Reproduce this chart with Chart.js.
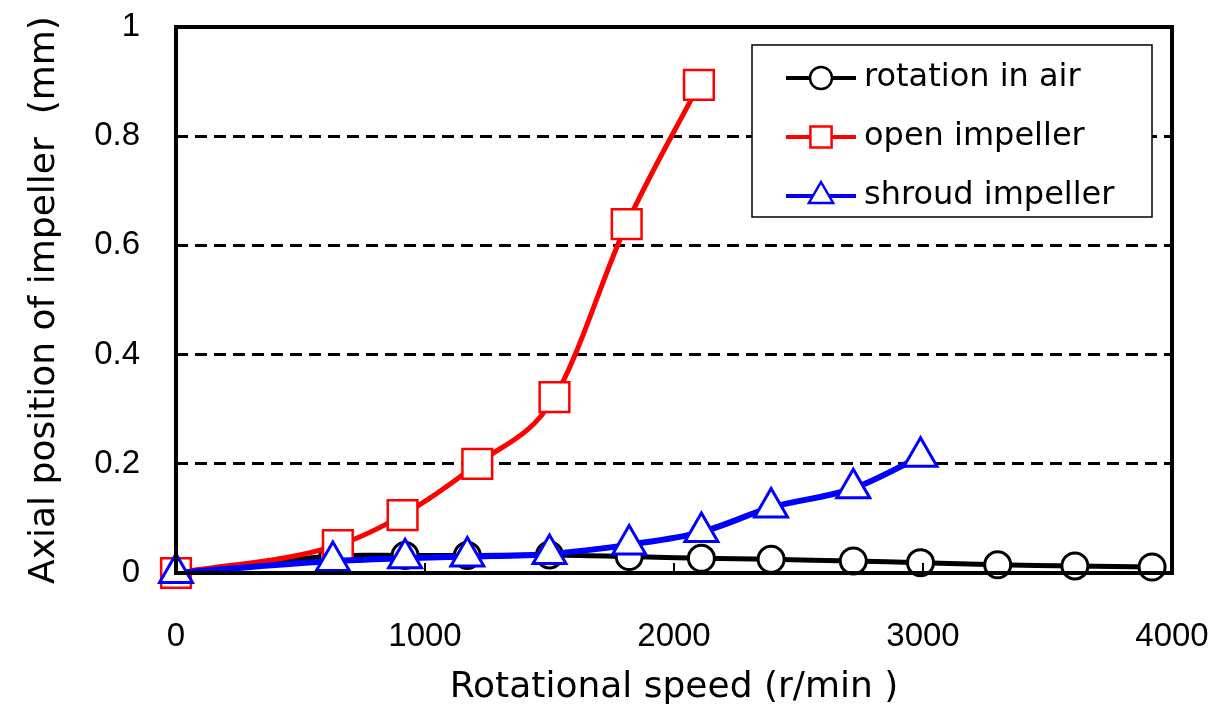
<!DOCTYPE html>
<html>
<head>
<meta charset="utf-8">
<script src="https://cdn.jsdelivr.net/npm/chart.js@4.4.0/dist/chart.umd.min.js"></script>
<style>
  html, body { margin: 0; padding: 0; background: #fff; }
  #wrap { width: 1225px; height: 709px; }
</style>
</head>
<body>
<div id="wrap"><canvas id="myChart" width="1225" height="709"></canvas></div>
<script>
// values
var airSpeed = [0, 630, 920, 1170, 1500, 1820, 2110, 2390, 2720, 2990, 3300, 3610, 3920];
var airPos = [0, 0.031, 0.032, 0.032, 0.033, 0.030, 0.027, 0.025, 0.022, 0.019, 0.015, 0.013, 0.011];

var openSpeed = [0, 650, 910, 1210, 1520, 1810, 2100];
var openPos = [0, 0.051, 0.106, 0.200, 0.322, 0.639, 0.894];

var shroudSpeed = [0, 630, 920, 1170, 1500, 1820, 2110, 2390, 2720, 2990];
var shroudPos = [0, 0.022, 0.027, 0.030, 0.035, 0.052, 0.075, 0.120, 0.155, 0.213];

var seriesNames = ['rotation in air', 'open impeller', 'shroud impeller'];

function pts(xs, ys) {
    return xs.map(function (x, i) { return { x: x, y: ys[i] }; });
}

var tickFont = { family: 'Liberation Sans', size: 33 };
var titleFont = { family: 'DejaVu Sans', size: 36 };

// box around the plot, inner ticks and the legend box
var frame = {
    id: 'frame',
    afterDatasetsDraw: function (chart) {
        var c = chart.ctx, a = chart.chartArea, xs = chart.scales.x;
        c.save();
        c.strokeStyle = '#000';
        c.lineWidth = 2;
        xs.ticks.forEach(function (t) {
            var px = xs.getPixelForValue(t.value);
            c.beginPath();
            c.moveTo(px, a.bottom);
            c.lineTo(px, a.bottom - 10);
            c.stroke();
        });
        c.lineWidth = 4;
        c.strokeRect(a.left, a.top, a.right - a.left, a.bottom - a.top);

        // legend
        var lx = 752, ly = 45, lw = 400, lh = 172;
        c.fillStyle = '#fff';
        c.fillRect(lx, ly, lw, lh);
        c.lineWidth = 1.5;
        c.strokeRect(lx, ly, lw, lh);
        [0, 1, 2].forEach(function (di, row) {
            var ds = chart.data.datasets[di];
            var y = 78 + row * 59;
            c.strokeStyle = ds.borderColor;
            c.lineWidth = 4;
            c.beginPath();
            c.moveTo(786, y);
            c.lineTo(856, y);
            c.stroke();
            var r = di === 0 ? 11 : (di === 1 ? 15 : 14);
            c.fillStyle = '#fff';
            c.strokeStyle = ds.pointBorderColor;
            c.lineWidth = 2.5;
            c.beginPath();
            if (ds.pointStyle === 'circle') {
                c.arc(821, y, r, 0, Math.PI * 2);
            } else if (ds.pointStyle === 'rect') {
                var s = r * Math.SQRT1_2;
                c.rect(821 - s, y - s, 2 * s, 2 * s);
            } else {
                c.moveTo(821, y - r);
                c.lineTo(821 + r * 0.866, y + r / 2);
                c.lineTo(821 - r * 0.866, y + r / 2);
                c.closePath();
            }
            c.fill();
            c.stroke();
            c.fillStyle = '#000';
            c.font = '32px "DejaVu Sans"';
            c.textBaseline = 'middle';
            c.textAlign = 'left';
            c.fillText(seriesNames[di], 864, y);
        });
        c.restore();
    }
};

var ctx = document.getElementById('myChart').getContext('2d');
var myChart = new Chart(ctx, {
    type: 'line',
    data: {
        datasets: [{
            label: seriesNames[0],
            data: pts(airSpeed, airPos),
            borderColor: '#000',
            borderWidth: 5,
            pointStyle: 'circle',
            pointRadius: 13,
            pointBorderWidth: 3,
            pointBorderColor: '#000',
            pointBackgroundColor: '#fff',
            tension: 0.3,
            order: 2
        }, {
            label: seriesNames[1],
            data: pts(openSpeed, openPos),
            borderColor: '#ff0000',
            borderWidth: 5,
            pointStyle: 'rect',
            pointRadius: 21,
            pointBorderWidth: 2.5,
            pointBorderColor: '#ff0000',
            pointBackgroundColor: '#fff',
            cubicInterpolationMode: 'monotone',
            order: 1
        }, {
            label: seriesNames[2],
            data: pts(shroudSpeed, shroudPos),
            borderColor: '#0000ff',
            borderWidth: 6,
            pointStyle: 'triangle',
            pointRadius: 19,
            pointBorderWidth: 3,
            pointBorderColor: '#0000ff',
            pointBackgroundColor: '#fff',
            cubicInterpolationMode: 'monotone',
            order: 0
        }]
    },
    options: {
        responsive: false,
        animation: false,
        clip: false,
        layout: {
            padding: { top: 27, right: 53, left: 0, bottom: 0 }
        },
        plugins: {
            legend: { display: false },
            tooltip: { enabled: false }
        },
        scales: {
            x: {
                type: 'linear',
                min: 0,
                max: 4000,
                border: { display: false },
                grid: { display: false },
                ticks: {
                    stepSize: 1000, font: tickFont, color: '#000', padding: 36,
                    callback: function (v) { return String(v); }
                },
                title: { display: true, text: 'Rotational speed (r/min )', font: titleFont, color: '#000', padding: { top: 0, bottom: 0 } },
                afterFit: function (s) {
                    s.height = 709 - 573;
                    s.paddingLeft = 0;
                    s.paddingRight = 0;
                }
            },
            y: {
                min: 0,
                max: 1,
                border: { display: false, dash: [12, 7] },
                grid: {
                    color: function (c) { return (c.tick.value > 0 && c.tick.value < 1) ? '#000' : 'rgba(0,0,0,0)'; },
                    lineWidth: 3,
                    drawTicks: false
                },
                ticks: {
                    stepSize: 0.2,
                    font: tickFont,
                    color: '#000',
                    padding: 36,
                    callback: function (v) { return String(Math.round(v * 10) / 10); }
                },
                title: { display: true, text: 'Axial position of impeller  (mm)', font: titleFont, color: '#000', padding: { top: 23, bottom: 0 } },
                afterFit: function (s) {
                    s.width = 176;
                    s.paddingTop = 0;
                    s.paddingBottom = 0;
                }
            }
        }
    },
    plugins: [frame]
});
</script>
</body>
</html>
